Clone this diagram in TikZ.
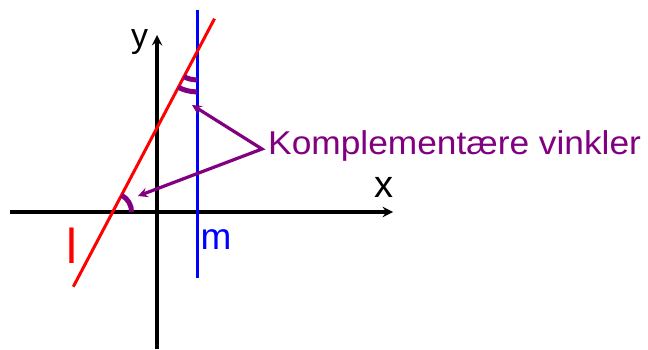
\documentclass[tikz,border=0pt]{standalone}
\usepackage{fontspec}
\setmainfont{Liberation Sans}
\usepackage{graphicx}
\usepackage{xcolor}
\usepackage{tikz}
\definecolor{darkpurple}{rgb}{0.5, 0.0, 0.5}
\definecolor{linered}{rgb}{1.0, 0.0, 0.0}
\definecolor{lineblue}{rgb}{0.0, 0.0, 1.0}

\begin{document}
\begin{tikzpicture}[x=1pt, y=1pt, >=stealth,
    axis/.style={->, line width=3.5pt},
    linel/.style={draw=linered, line width=3pt},
    linem/.style={draw=lineblue, line width=3pt},
    anglemark/.style={draw=darkpurple, line width=5pt},
    pointer/.style={<->, draw=darkpurple, line width=3.2pt},
    lbl/.style={inner sep=0pt}]
    \useasboundingbox (0, 0) rectangle (648, 349);

    % Axes
    \coordinate (xstart) at (10, 137);
    \coordinate (xend) at (393, 137);
    \coordinate (ystart) at (157, 0);
    \coordinate (yend) at (157, 314);
    \draw[axis] (xstart) -- (xend);
    \draw[axis] (ystart) -- (yend);
    \node[lbl, font=\fontsize{38}{40}\selectfont] (xlabel) at (384, 162) {x};
    \node[lbl, font=\fontsize{34}{36}\selectfont] (ylabel) at (139.5, 306.5) {y};

    % Line m
    \coordinate (mtop) at (197, 339);
    \coordinate (mbottom) at (197, 71);
    \draw[linem] (mtop) -- (mbottom);
    \node[lbl, text=lineblue, font=\fontsize{37}{40}\selectfont] (mlabel) at (216, 109) {m};

    % Line l
    \coordinate (ltop) at (214.5, 330.3);
    \coordinate (lbottom) at (73.3, 62.3);
    \draw[linel] (ltop) -- (lbottom);
    \node[lbl, text=linered, font=\fontsize{49}{50}\selectfont] (llabel) at (71.5, 103.5) {l};

    % Angle marks
    \coordinate (lm) at (197, 297.1);
    \coordinate (lx) at (112.6, 137);
    \draw[anglemark] (lm) ++(242.2:28) arc[start angle=242.2, end angle=270, radius=28];
    \draw[anglemark] (lm) ++(242.2:40) arc[start angle=242.2, end angle=270, radius=40];
    \draw[anglemark] (lx) ++(0:19) arc[start angle=0, end angle=62.2, radius=19];

    % Label with pointers
    \node[lbl, anchor=base west, text=darkpurple, font=\fontsize{33}{36}\selectfont] (komp) at (268, 195) {\scalebox{1.07}[1]{Komplementære vinkler}};
    \coordinate (fork) at ([shift={(-6pt, 5pt)}]komp.base west);
    \coordinate (upperangle) at (192, 244);
    \coordinate (lowerangle) at (138, 153);
    \draw[pointer] (upperangle) -- (fork) -- (lowerangle);
\end{tikzpicture}
\end{document}
